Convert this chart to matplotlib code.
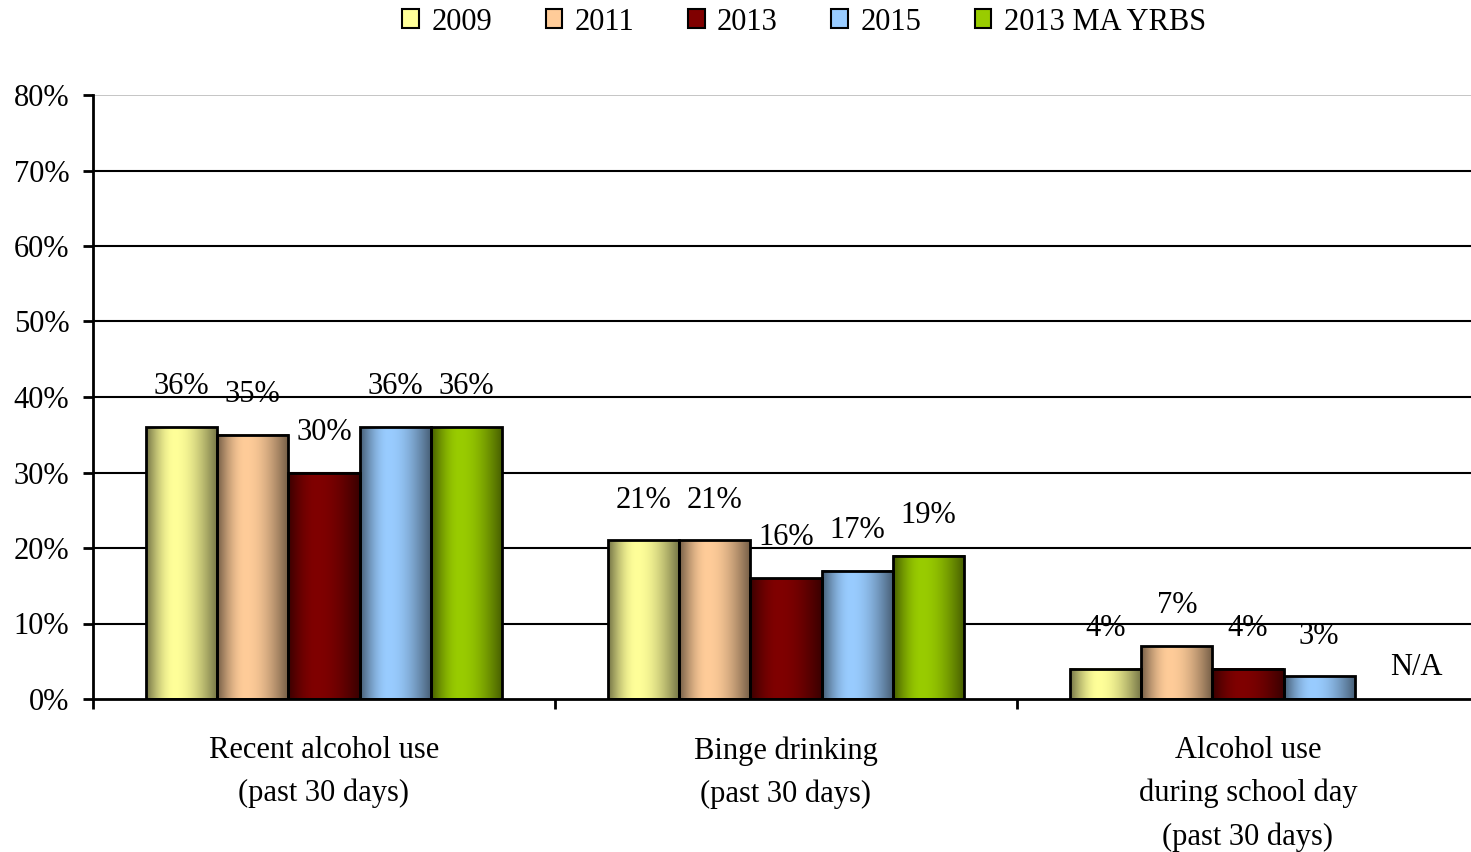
import numpy as np
import matplotlib
matplotlib.use("Agg")
import matplotlib.pyplot as plt
from matplotlib.patches import Rectangle
from matplotlib.colors import to_rgb

categories = ["Recent alcohol use\n(past 30 days)",
              "Binge drinking\n(past 30 days)",
              "Alcohol use\nduring school day\n(past 30 days)"]
series = ["2009", "2011", "2013", "2015", "2013 MA YRBS"]
values = {
    "2009": [36, 21, 4],
    "2011": [35, 21, 7],
    "2013": [30, 16, 4],
    "2015": [36, 17, 3],
    "2013 MA YRBS": [36, 19, None],
}
colors = {
    "2009": "#FFFF99",
    "2011": "#FFCC99",
    "2013": "#800000",
    "2015": "#99CCFF",
    "2013 MA YRBS": "#99CC00",
}
yticks = [0, 10, 20, 30, 40, 50, 60, 70, 80]

plt.rcParams['font.family'] = ['Liberation Serif', 'DejaVu Serif']
FS = 22

fig = plt.figure(figsize=(14.71, 8.52), dpi=100)
ax = fig.add_axes([93/1471, 1-699/852, 1-93/1471, (699-95)/852])

bw = 0.154
x = np.arange(len(categories))

# gradient profile
t = np.linspace(0, 1, 200)
peak = 0.4
prof = np.where(t < peak, np.sin(t/peak*np.pi/2), np.cos((t-peak)/(1-peak)*np.pi/2))
shade = 0.45 + 0.55*prof

for j, s in enumerate(series):
    base = np.array(to_rgb(colors[s]))
    grad = (shade[:, None]*base[None, :])[None, :, :]
    for i, v in enumerate(values[s]):
        xc = x[i] + (j-2)*bw
        if v is None:
            ax.annotate("N/A", (xc, 0), xytext=(0, 23), textcoords="offset points",
                        ha="left", va="center", fontsize=FS)
            continue
        ax.imshow(grad, extent=(xc-bw/2, xc+bw/2, 0, v), aspect='auto',
                  interpolation='bilinear', zorder=3)
        ax.add_patch(Rectangle((xc-bw/2, 0), bw, v, facecolor='none',
                               edgecolor='black', lw=2, zorder=4))
        ax.annotate(f"{v}%", (xc, v), xytext=(0, 29), textcoords="offset points",
                    ha="center", va="center", fontsize=FS)

ax.set_xlim(-0.5, -0.5 + (1471-93)/462)
ax.set_ylim(0, 80)
ax.set_yticks(yticks)
ax.set_yticklabels([f"{v}%" for v in yticks], fontsize=FS)
for v in yticks[1:-1]:
    ax.axhline(v, color='black', lw=1.5, zorder=1)
ax.axhline(80, color='#BBBBBB', lw=1.2, zorder=1)

ax.set_xticks(x)
ax.set_xticklabels(categories, fontsize=FS, linespacing=1.6)
ax.tick_params(axis='x', which='major', length=0, pad=27)
ax.set_xticks([-0.5, 0.5, 1.5], minor=True)
ax.tick_params(axis='x', which='minor', length=7, width=2, direction='out')
ax.tick_params(axis='y', length=7, width=2, direction='out', pad=10)
for sp in ['top', 'right']:
    ax.spines[sp].set_visible(False)
for sp in ['left', 'bottom']:
    ax.spines[sp].set_linewidth(2)
    ax.spines[sp].set_zorder(5)

handles = [Rectangle((0, 0), 1, 1, facecolor=colors[s], edgecolor='black', lw=1.5) for s in series]
fig.legend(handles, series, loc='center', bbox_to_anchor=(804/1471, 1-22/852), ncol=5,
           frameon=False, fontsize=FS, handlelength=0.55, handleheight=0.55,
           handletextpad=0.4, columnspacing=1.75)

fig.savefig("out.png", dpi=100)
